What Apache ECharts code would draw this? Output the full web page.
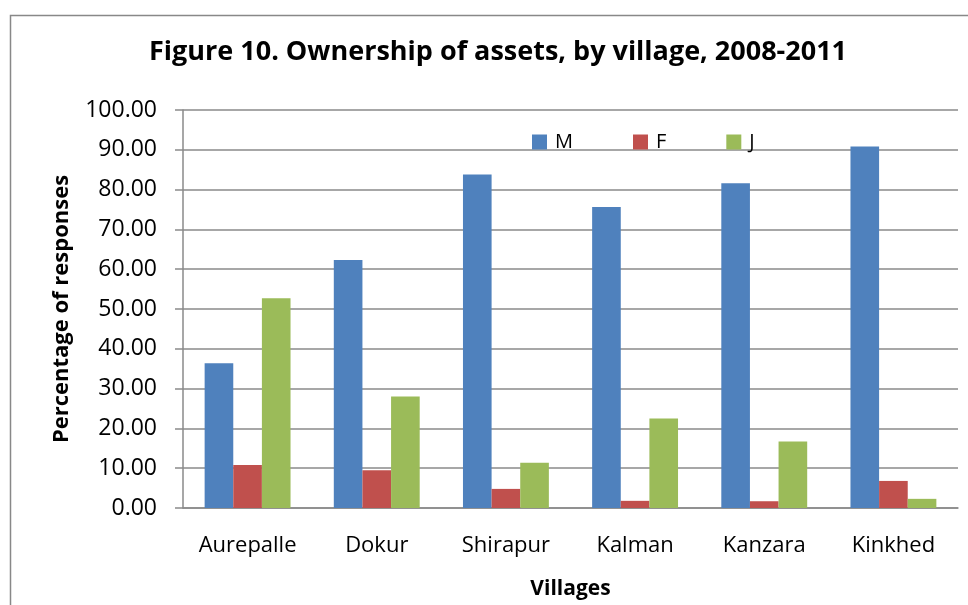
<!DOCTYPE html>
<html>
<head>
<meta charset="utf-8">
<script src="https://cdn.jsdelivr.net/npm/echarts@6/dist/echarts.min.js"></script>
<style>
html,body{margin:0;padding:0;background:#fff;}
#chart{width:968px;height:605px;}
</style>
</head>
<body>
<div id="chart"></div>
<script>
const categories = ['Aurepalle', 'Dokur', 'Shirapur', 'Kalman', 'Kanzara', 'Kinkhed'];
const seriesNames = ['M', 'F', 'J'];
const valuesM = [36.4, 62.3, 83.8, 75.6, 81.6, 90.8];
const valuesF = [10.8, 9.5, 4.8, 1.8, 1.7, 6.8];
const valuesJ = [52.7, 28.0, 11.4, 22.5, 16.7, 2.3];
const colors = ['#4F81BD', '#C0504D', '#9BBB59'];

const chart = echarts.init(document.getElementById('chart'), null, {renderer: 'canvas'});
const font = '"Open Sans", sans-serif';
const gridColor = '#8a8a8a';

chart.setOption({
  animation: false,
  backgroundColor: '#ffffff',
  color: colors,
  graphic: [{
    type: 'rect',
    left: 8, top: 13,
    shape: {width: 1000, height: 700},
    style: {fill: 'none', stroke: '#888888', lineWidth: 1.5},
    silent: true
  }],
  title: {
    text: 'Figure 10. Ownership of assets, by village, 2008-2011',
    left: 493,
    textAlign: 'center',
    top: 34,
    textStyle: {fontFamily: font, fontWeight: 'bold', fontSize: 27, color: '#000'}
  },
  legend: {
    data: seriesNames,
    left: 527,
    top: 127,
    itemWidth: 15,
    itemHeight: 15,
    itemGap: 60,
    icon: 'rect',
    textStyle: {fontFamily: font, fontSize: 20, color: '#000', padding: [0, 0, 0, 3]}
  },
  grid: {left: 183, right: 10, top: 110, bottom: 95, containLabel: false},
  xAxis: {
    type: 'category',
    data: categories,
    name: 'Villages',
    nameLocation: 'middle',
    nameGap: 71,
    nameTextStyle: {fontFamily: font, fontWeight: 'bold', fontSize: 21, color: '#000'},
    axisLine: {lineStyle: {color: gridColor, width: 1.5}},
    axisTick: {show: false},
    axisLabel: {fontFamily: font, fontSize: 22, color: '#000', margin: 27, interval: 0}
  },
  yAxis: {
    type: 'value',
    min: 0, max: 100, interval: 10,
    name: 'Percentage of responses',
    nameLocation: 'middle',
    nameGap: 110,
    nameTextStyle: {fontFamily: font, fontWeight: 'bold', fontSize: 22, color: '#000'},
    axisLine: {show: true, lineStyle: {color: gridColor, width: 1.5}},
    axisTick: {show: true, length: 8, lineStyle: {color: gridColor, width: 1.5}},
    splitLine: {lineStyle: {color: gridColor, width: 1.5}},
    axisLabel: {fontFamily: font, fontSize: 23, color: '#000', margin: 26,
      formatter: v => v.toFixed(2)}
  },
  series: [
    {name: seriesNames[0], type: 'bar', data: valuesM, barGap: '0%', barCategoryGap: '33.5%'},
    {name: seriesNames[1], type: 'bar', data: valuesF, barGap: '0%', barCategoryGap: '33.5%'},
    {name: seriesNames[2], type: 'bar', data: valuesJ, barGap: '0%', barCategoryGap: '33.5%'}
  ]
});
</script>
</body>
</html>
